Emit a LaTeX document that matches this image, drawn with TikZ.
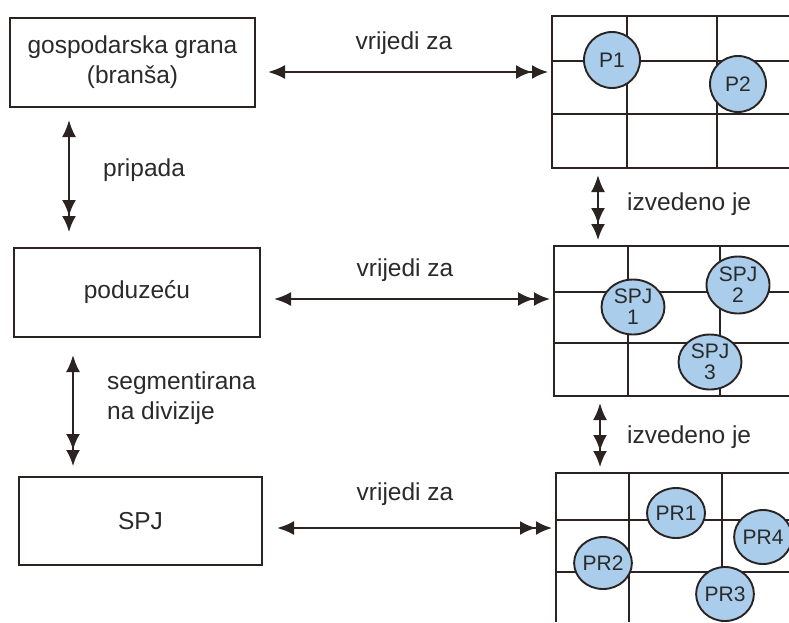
\documentclass[tikz,border=0pt]{standalone}
\usepackage{fontspec}
\setmainfont{Liberation Sans}
\usetikzlibrary{arrows.meta,shapes.geometric}
\definecolor{ink}{HTML}{2B2222}
\definecolor{txt}{HTML}{2A2A2A}
\definecolor{cfill}{HTML}{A9CDEB}
\begin{document}
\begin{tikzpicture}[x=1pt,y=-1pt,
  box/.style={draw=ink, line width=1.9pt, align=center, inner sep=0pt,
    font=\fontsize{24.5}{30}\selectfont, text=txt},
  lbl/.style={font=\fontsize{24.5}{30}\selectfont, text=txt, inner sep=0pt},
  link/.style={draw=ink, line width=2.2pt,
    {Latex[length=17pt,width=14pt]}-{Latex[length=16pt,width=14pt] Latex[length=16pt,width=14pt]}},
  gridline/.style={draw=ink, line width=2.1pt},
  unit/.style={ellipse, draw=ink, line width=1.9pt, fill=cfill, inner sep=0pt,
    font=\fontsize{21}{21}\selectfont, text=txt, align=center}]
\useasboundingbox (0,0) rectangle (789,622);

% left boxes
\node[box, minimum width=245pt, minimum height=89pt] (b1) at (132.5,62.5) {gospodarska grana\\(branša)};
\node[box, minimum width=246pt, minimum height=89pt] (b2) at (137,292.5) {poduzeću};
\node[box, minimum width=243pt, minimum height=88pt] (b3) at (140.5,521) {SPJ};

% grid 1
\draw[gridline] (789,16) -- (552,16) -- (552,168) -- (789,168);
\draw[gridline] (552,61) -- (789,61) (552,114) -- (789,114);
\draw[gridline] (627,16) -- (627,168) (717,16) -- (717,168);
% grid 2
\draw[gridline] (789,246) -- (554,246) -- (554,396) -- (789,396);
\draw[gridline] (554,292) -- (789,292) (554,343) -- (789,343);
\draw[gridline] (628,246) -- (628,396) (720,246) -- (720,396);
% grid 3
\draw[gridline] (789,473) -- (556,473) -- (556,622);
\draw[gridline] (556,520) -- (789,520) (556,572) -- (789,572);
\draw[gridline] (629,473) -- (629,622) (722,473) -- (722,622);

% units
\node[unit, minimum width=56pt, minimum height=56pt] (p1) at (612,60) {P1};
\node[unit, minimum width=56pt, minimum height=56pt] (p2) at (738,84) {P2};
\node[unit, minimum width=63pt, minimum height=55pt] (s1) at (633,307) {SPJ\\1};
\node[unit, minimum width=63pt, minimum height=57pt] (s2) at (738,285) {SPJ\\2};
\node[unit, minimum width=63pt, minimum height=55pt] (s3) at (710,362) {SPJ\\3};
\node[unit, minimum width=58pt, minimum height=50pt] (r1) at (676,513) {PR1};
\node[unit, minimum width=56pt, minimum height=54pt] (r4) at (763,537) {PR4};
\node[unit, minimum width=56pt, minimum height=52pt] (r2) at (603,563) {PR2};
\node[unit, minimum width=57pt, minimum height=54pt] (r3) at (725,594) {PR3};

% connector end points
\coordinate (h1s) at (268,72);  \coordinate (h1e) at (548,72);
\coordinate (h2s) at (274,299); \coordinate (h2e) at (550,299);
\coordinate (h3s) at (277,528); \coordinate (h3e) at (552,528);
\coordinate (v1s) at (69,120);  \coordinate (v1e) at (69,232);
\coordinate (v2s) at (73,355);  \coordinate (v2e) at (73,466);
\coordinate (w1s) at (598,175); \coordinate (w1e) at (598,240);
\coordinate (w2s) at (600,403); \coordinate (w2e) at (600,467);

\draw[link] (h1s) -- (h1e);
\draw[link] (h2s) -- (h2e);
\draw[link] (h3s) -- (h3e);
\draw[link] (v1s) -- (v1e);
\draw[link] (v2s) -- (v2e);
\draw[link] (w1s) -- (w1e);
\draw[link] (w2s) -- (w2e);

% labels
\node[lbl] (l1) at (404,43) {vrijedi za};
\node[lbl] (l2) at (405,270) {vrijedi za};
\node[lbl] (l3) at (405,494) {vrijedi za};
\node[lbl, anchor=west] (l4) at (103,170) {pripada};
\node[lbl, anchor=west, align=left] (l5) at (107,398) {segmentirana\\na divizije};
\node[lbl, anchor=west] (l6) at (627,204) {izvedeno je};
\node[lbl, anchor=west] (l7) at (627,437) {izvedeno je};
\end{tikzpicture}
\end{document}
